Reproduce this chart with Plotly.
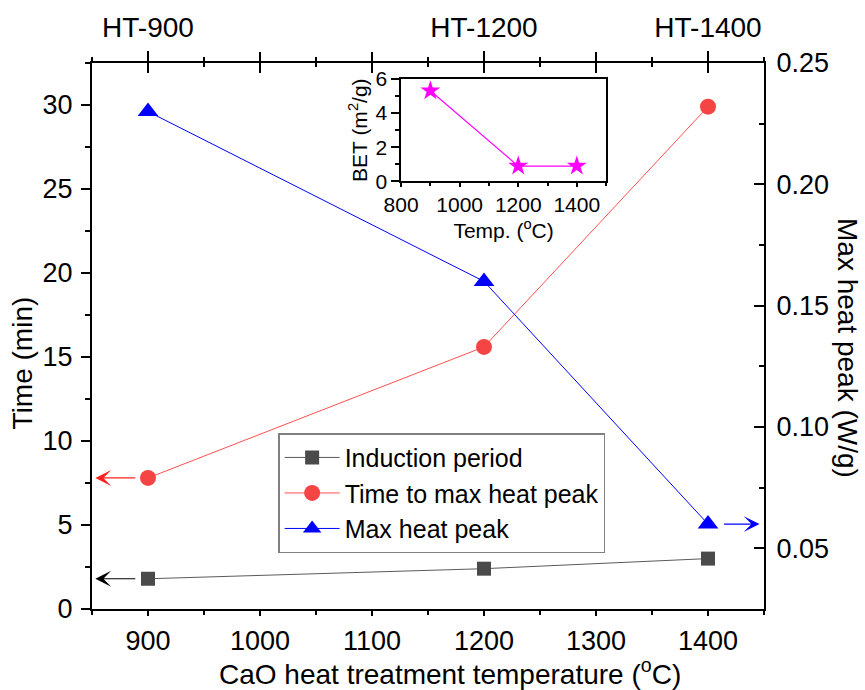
import plotly.graph_objects as go

# Heat treatment temperatures (°C)
temps = [900, 1200, 1400]
# Left axis: times in minutes
induction_period = [1.8, 2.4, 3.0]
time_to_max_peak = [7.8, 15.6, 29.9]
# Right axis: max heat peak (W/g)
max_heat_peak = [0.230, 0.160, 0.060]
# Inset: BET surface area (m2/g)
bet_area = [5.3, 0.9, 0.9]

# Sample names shown along the top axis
sample_vals = [900, 1200, 1400]
sample_names = ["HT-900", "HT-1200", "HT-1400"]

FONT = "Arial, Liberation Sans, sans-serif"
GRAY_M = "#4a4a4a"
GRAY_L = "#5a5a5a"
RED_M = "#f54444"
RED_L = "#ff5050"
BLUE = "#0000ff"
MAGENTA = "#ff00ff"

MAJOR_X = [900, 1000, 1100, 1200, 1300, 1400]
MINOR_X = [850, 950, 1050, 1150, 1250, 1350, 1450]

TICK_SIZE = 27
TITLE_SIZE = 28

fig = go.Figure()

fig.add_trace(go.Scatter(
    x=temps, y=induction_period, name="Induction period",
    mode="lines+markers", xaxis="x", yaxis="y",
    line=dict(color=GRAY_L, width=1),
    marker=dict(symbol="square", size=14, color=GRAY_M),
))
fig.add_trace(go.Scatter(
    x=temps, y=time_to_max_peak, name="Time to max heat peak",
    mode="lines+markers", xaxis="x", yaxis="y",
    line=dict(color=RED_L, width=1),
    marker=dict(symbol="circle", size=16, color=RED_M),
))
fig.add_trace(go.Scatter(
    x=temps, y=max_heat_peak, name="Max heat peak",
    mode="lines+markers", xaxis="x", yaxis="y2",
    line=dict(color=BLUE, width=1),
    marker=dict(symbol="triangle-up", size=18, color=BLUE),
))
fig.add_trace(go.Scatter(
    x=temps, y=bet_area, mode="lines+markers", showlegend=False,
    xaxis="x3", yaxis="y3",
    line=dict(color=MAGENTA, width=1.2),
    marker=dict(symbol="star", size=15, color=MAGENTA),
))

# Empty traces so the extra top axes get drawn
for ax_name in ["x2", "x4", "x5"]:
    fig.add_trace(go.Scatter(x=[None], y=[None], xaxis=ax_name, yaxis="y",
                             mode="markers", showlegend=False, hoverinfo="skip"))

axis_common = dict(showgrid=False, zeroline=False,
                   tickfont=dict(family=FONT, size=TICK_SIZE, color="black"))

fig.update_layout(
    width=865, height=690,
    margin=dict(l=92, r=101, t=60, b=81),
    paper_bgcolor="white", plot_bgcolor="white",
    font=dict(family=FONT, color="black"),
    xaxis=dict(
        range=[850, 1450], domain=[0, 1], anchor="y",
        tickvals=MAJOR_X,
        showline=True, linecolor="black", linewidth=2,
        ticks="outside", ticklen=5, tickwidth=2, tickcolor="black",
        minor=dict(tickvals=MINOR_X, ticks="outside", ticklen=4,
                   tickwidth=2, tickcolor="black"),
        ticklabelstandoff=2,
        **axis_common,
    ),
    # top axis: sample names, ticks crossing the frame line
    xaxis2=dict(
        range=[850, 1450], overlaying="x", side="top", anchor="y",
        tickvals=sample_vals, ticktext=sample_names,
        showline=True, linecolor="black", linewidth=2,
        ticks="outside", ticklen=10, tickwidth=2, tickcolor="black",
        minor=dict(tickvals=MINOR_X, ticks="outside", ticklen=4,
                   tickwidth=2, tickcolor="black"),
        ticklabelstandoff=3,
        showgrid=False, zeroline=False,
        tickfont=dict(family=FONT, size=TITLE_SIZE, color="black"),
    ),
    xaxis4=dict(
        range=[850, 1450], overlaying="x", side="top", anchor="y",
        tickvals=MAJOR_X, showticklabels=False,
        ticks="inside", ticklen=10, tickwidth=2, tickcolor="black",
        minor=dict(tickvals=MINOR_X, ticks="inside", ticklen=4,
                   tickwidth=2, tickcolor="black"),
        showline=False, showgrid=False, zeroline=False,
    ),
    xaxis5=dict(
        range=[850, 1450], overlaying="x", side="top", anchor="y",
        tickvals=[1000, 1100, 1300], showticklabels=False,
        ticks="outside", ticklen=10, tickwidth=2, tickcolor="black",
        showline=False, showgrid=False, zeroline=False,
    ),
    yaxis=dict(
        range=[0, 32.5], domain=[0, 1], anchor="x",
        tickvals=[0, 5, 10, 15, 20, 25, 30],
        showline=True, linecolor="black", linewidth=2,
        ticks="outside", ticklen=9, tickwidth=2, tickcolor="black",
        minor=dict(tickvals=[2.5, 7.5, 12.5, 17.5, 22.5, 27.5, 32.5],
                   ticks="outside", ticklen=5, tickwidth=2, tickcolor="black"),
        ticklabelstandoff=3,
        **axis_common,
    ),
    yaxis2=dict(
        range=[0.025, 0.25], overlaying="y", side="right", anchor="x",
        tickvals=[0.05, 0.10, 0.15, 0.20, 0.25],
        ticktext=["0.05", "0.10", "0.15", "0.20", "0.25"],
        showline=True, linecolor="black", linewidth=2,
        ticks="inside", ticklen=10, tickwidth=2, tickcolor="black",
        minor=dict(tickvals=[0.075, 0.125, 0.175, 0.225],
                   ticks="inside", ticklen=5, tickwidth=2, tickcolor="black"),
        ticklabelstandoff=5,
        **axis_common,
    ),
    xaxis3=dict(
        range=[800, 1500], domain=[0.46, 0.765], anchor="y3",
        tickvals=[800, 1000, 1200, 1400],
        ticks="outside", ticklen=4, tickwidth=1.5, tickcolor="black",
        minor=dict(tickvals=[900, 1100, 1300, 1500], ticks="outside",
                   ticklen=3, tickwidth=1.5, tickcolor="black"),
        showline=True, linecolor="black", linewidth=1.5, mirror=True,
        showgrid=False, zeroline=False,
        tickfont=dict(family=FONT, size=21, color="black"),
        title=dict(text="Temp. (<sup>o</sup>C)", font=dict(family=FONT, size=21), standoff=2),
    ),
    yaxis3=dict(
        range=[0, 6], domain=[0.783, 0.971], anchor="x3",
        tickvals=[0, 2, 4, 6],
        ticks="outside", ticklen=8, tickwidth=1.5, tickcolor="black",
        minor=dict(tickvals=[1, 3, 5], ticks="outside",
                   ticklen=4, tickwidth=1.5, tickcolor="black"),
        showline=True, linecolor="black", linewidth=1.5, mirror=True,
        showgrid=False, zeroline=False,
        tickfont=dict(family=FONT, size=21, color="black"),
        title=dict(text="BET (m<sup>2</sup>/g)", font=dict(family=FONT, size=21), standoff=2),
    ),
    legend=dict(
        x=0.277, y=0.322, xanchor="left", yanchor="top",
        bgcolor="white", bordercolor="#808080", borderwidth=1.5,
        font=dict(family=FONT, size=25, color="black"),
        tracegroupgap=0, itemwidth=55,
    ),
    showlegend=True,
)

# Arrows pointing each series to its own axis
arrow_specs = [
    dict(x=853, y=time_to_max_peak[0], ax=890, ay=time_to_max_peak[0],
         xref="x", yref="y", axref="x", ayref="y", color="#ff2020"),
    dict(x=853, y=induction_period[0], ax=890, ay=induction_period[0],
         xref="x", yref="y", axref="x", ayref="y", color="black"),
    dict(x=1446, y=max_heat_peak[2], ax=1413, ay=max_heat_peak[2],
         xref="x", yref="y2", axref="x", ayref="y2", color=BLUE),
]
for a in arrow_specs:
    fig.add_annotation(
        x=a["x"], y=a["y"], ax=a["ax"], ay=a["ay"],
        xref=a["xref"], yref=a["yref"], axref=a["axref"], ayref=a["ayref"],
        text="", showarrow=True, arrowhead=3, arrowsize=2.2, arrowwidth=1.2,
        arrowcolor=a["color"],
    )

# Axis titles
title_font = dict(family=FONT, size=TITLE_SIZE, color="black")
fig.add_annotation(
    text="CaO heat treatment temperature (<sup>o</sup>C)",
    xref="paper", yref="paper", x=0.533, y=-0.1148,
    xanchor="center", yanchor="middle", showarrow=False, font=title_font,
)
fig.add_annotation(
    text="Time (min)", xref="paper", yref="paper",
    x=-0.104, y=0.45, xanchor="center", yanchor="middle",
    showarrow=False, textangle=-90, font=title_font,
)
# Right axis title reads top to bottom
fig.add_annotation(
    text="Max heat peak (W/g)", xref="paper", yref="paper",
    x=1.125, y=0.478, xanchor="center", yanchor="middle",
    showarrow=False, textangle=90, font=title_font,
)

fig.write_html("out.html")
